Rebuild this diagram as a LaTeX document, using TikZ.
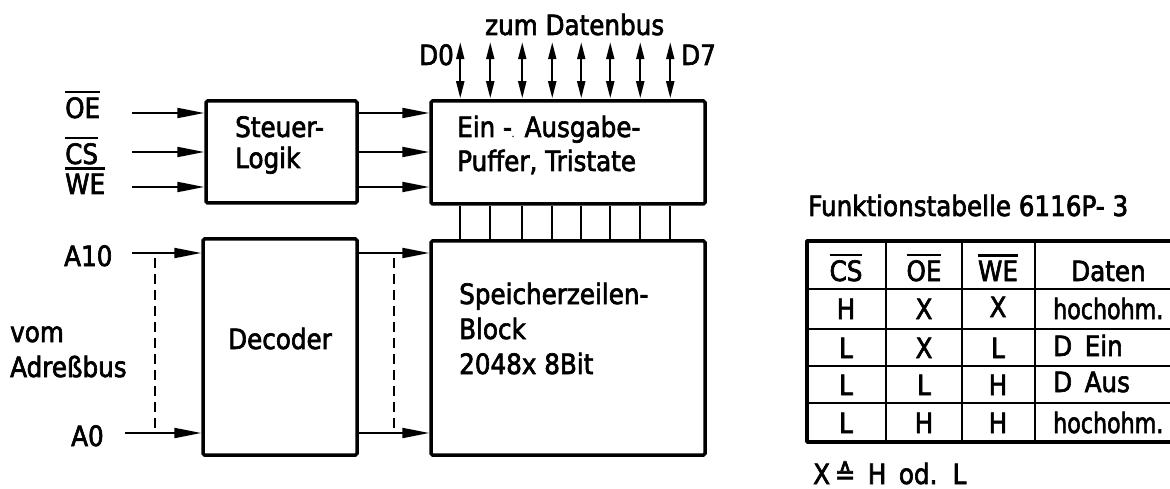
\documentclass[tikz,border=0pt]{standalone}
\usepackage{fontspec}
\setmainfont{DejaVu Sans}[FakeStretch=0.88,FakeBold=2.3]
\usetikzlibrary{arrows.meta}
\newcommand\ovl[1]{\vbox{\hrule height 2.2pt\kern 4pt\hbox{#1}}}
\begin{document}
\begin{tikzpicture}[x=1pt,y=-1pt,
  txt/.style={inner sep=0pt, anchor=base west, font=\fontsize{28}{33}\selectfont},
  ctxt/.style={inner sep=0pt, anchor=base, font=\fontsize{28}{33}\selectfont},
  blk/.style={draw, line width=3.5pt, rounded corners=1.5pt, inner sep=0pt},
  arr/.style={line width=2pt, -{Triangle[length=27pt,width=10pt]}},
  bus/.style={line width=2pt, {Triangle[length=17pt,width=8pt]}-{Triangle[length=17pt,width=8pt]}},
  thinl/.style={line width=2pt},
  thickl/.style={line width=3.5pt},
  dashline/.style={line width=2pt, dash pattern=on 10pt off 6pt}]
\clip (0,0) rectangle (1170,489);
\fill[white] (0,0) rectangle (1170,489);

% blocks
\node[blk, minimum width=151pt, minimum height=102pt] (steuer) at (281.5,152) {};
\node[blk, minimum width=274pt, minimum height=103pt] (ea) at (568,152.5) {};
\node[blk, minimum width=154pt, minimum height=216pt] (dec) at (280,347) {};
\node[blk, minimum width=274pt, minimum height=214pt] (mem) at (568,348) {};

% block texts
\node[txt] (st1) at (235,137) {Steuer-};
\node[txt] (st2) at (235,168) {Logik};
\node[txt] (ea1) at (457,137) {Ein -{\fontsize{8}{8}\selectfont.} Ausgabe-};
\node[txt] (ea2) at (457,171) {Puffer, Tristate};
\node[txt] (m1) at (459,304) {Speicherzeilen-};
\node[txt] (m2) at (459,339) {Block};
\node[txt] (m3) at (459,374) {2048x 8Bit};
\node[ctxt] (dtx) at (280,349) {Decoder};

% control inputs
\coordinate (oeS) at (132,113);
\coordinate (csS) at (132,152);
\coordinate (weS) at (132,187);
\node[txt] (oe) at (65,118) {\ovl{OE}};
\node[txt] (cs) at (65,164) {\ovl{CS}};
\node[txt] (we) at (65,194) {\ovl{WE}};
\foreach \c in {oeS,csS,weS}{
  \draw[arr] (\c) -- (\c -| steuer.west);
  \draw[arr] (steuer.east |- \c) -- (ea.west |- \c);
}

% address inputs
\coordinate (a10S) at (132,253);
\coordinate (a0S) at (125,433);
\node[txt] (a10) at (64,266) {A10};
\node[txt] (a0) at (71,446) {A0};
\node[txt] (vom) at (10,342) {vom};
\node[txt] (adr) at (10,377) {Adreßbus};
\draw[arr] (a10S) -- (a10S -| dec.west);
\draw[arr] (a0S) -- (a0S -| dec.west);
\draw[arr] (dec.east |- a10S) -- (mem.west |- a10S);
\draw[arr] (dec.east |- a0S) -- (mem.west |- a0S);
\coordinate (dl1) at (155,258);
\coordinate (dl2) at (155,430);
\coordinate (dr1) at (394,258);
\coordinate (dr2) at (394,430);
\draw[dashline] (dl1) -- (dl2);
\draw[dashline] (dr1) -- (dr2);

% internal bus and data bus
\foreach \dx in {31,61,93,123,152,181,211,241}{
  \draw[thinl] ([xshift=\dx pt]ea.south west) -- ([xshift=\dx pt]mem.north west);
  \draw[bus] ([xshift=\dx pt, yshift=1pt]ea.north west) -- ++(0,-56);
}
\node[txt] (zdb) at (485,35) {zum Datenbus};
\node[txt] (d0) at (419,65) {D0};
\node[txt] (d7) at (681,65) {D7};

% function table
\node[txt] (ftit) at (808,216) {Funktionstabelle 6116P- 3};
\draw[thinl] (807,289) -- (1180,289);
\draw[thinl] (807,329) -- (1180,329);
\draw[thinl] (807,366) -- (1180,366);
\draw[thinl] (807,403) -- (1180,403);
\draw[thinl] (886,241) -- (886,442);
\draw[thinl] (962,241) -- (962,442);
\draw[thinl] (1035,241) -- (1035,442);
\draw[thickl, line join=round] (1180,241) -- (807,241) -- (807,442) -- (1180,442);

\node[ctxt] (h1) at (846,281) {\ovl{CS}};
\node[ctxt] (h2) at (924,281) {\ovl{OE}};
\node[ctxt] (h3) at (998,281) {\ovl{WE}};
\node[txt] (h4) at (1071,281) {Daten};

\node[ctxt] (r11) at (846,319) {H};
\node[ctxt] (r12) at (924,319) {X};
\node[ctxt] (r13) at (998,317) {X};
\node[txt] (r14) at (1053,319) {\scalebox{0.9}[1]{hochohm.}};

\node[ctxt] (r21) at (846,358) {L};
\node[ctxt] (r22) at (924,358) {X};
\node[ctxt] (r23) at (998,358) {L};
\node[txt] (r24) at (1053,356) {D\, Ein};

\node[ctxt] (r31) at (846,395) {L};
\node[ctxt] (r32) at (924,395) {L};
\node[ctxt] (r33) at (998,395) {H};
\node[txt] (r34) at (1053,392) {D\, Aus};

\node[ctxt] (r41) at (846,433) {L};
\node[ctxt] (r42) at (924,433) {H};
\node[ctxt] (r43) at (998,433) {H};
\node[txt] (r44) at (1053,433) {\scalebox{0.9}[1]{hochohm.}};

\node[txt] (leg) at (813,484) {X\,≙\, H\, od.\, L};
\end{tikzpicture}
\end{document}
